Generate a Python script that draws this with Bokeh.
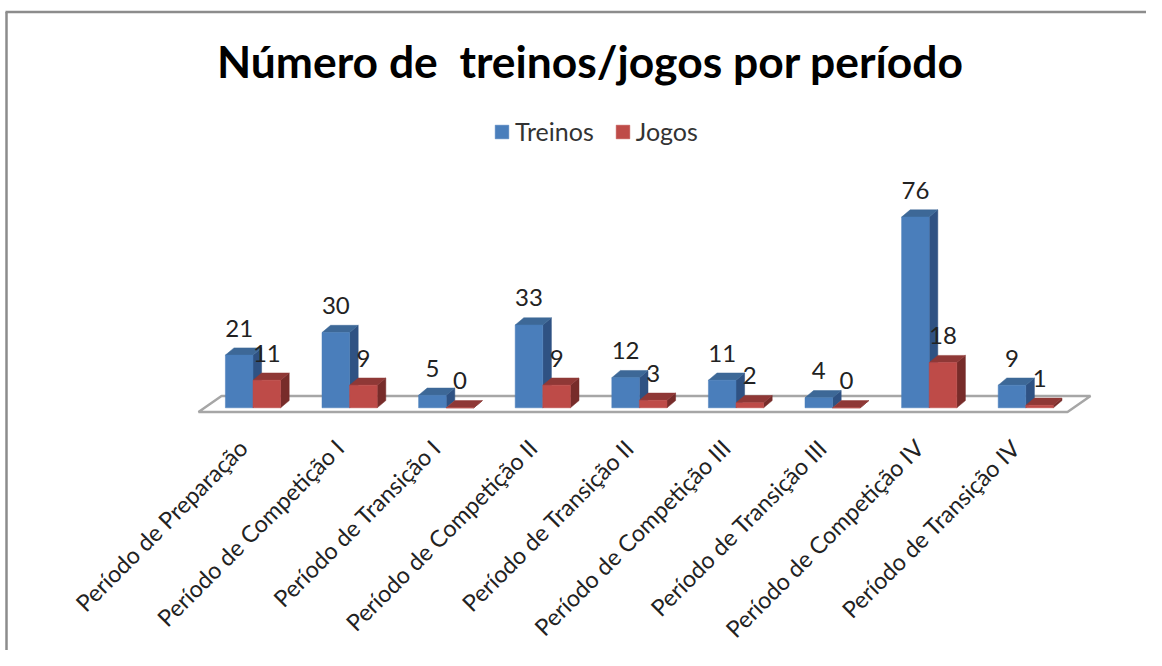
from bokeh.plotting import figure
from bokeh.models import Range1d, Legend, LegendItem
from bokeh.core.properties import value
from bokeh.embed import file_html
from bokeh.resources import INLINE

categories = ["Período de Preparação", "Período de Competição I", "Período de Transição I",
              "Período de Competição II", "Período de Transição II", "Período de Competição III",
              "Período de Transição III", "Período de Competição IV", "Período de Transição IV"]
treinos = [21, 30, 5, 33, 12, 11, 4, 76, 9]
jogos = [11, 9, 0, 9, 3, 2, 0, 18, 1]

FONT = "Lato"
W, H = 1146, 650
PX_PER_CAT = 96.6
PX_PER_UNIT = 2.51
X0 = 252.5   # figure x of first category
Y0 = 407.3   # figure y of value 0

def px(x):
    return (x - X0) / PX_PER_CAT
def py(y):
    return (Y0 - y) / PX_PER_UNIT

p = figure(width=W, height=H, output_backend="svg", toolbar_location=None,
           x_range=Range1d(px(0), px(W)), y_range=Range1d(py(H), py(0)),
           min_border=0, x_axis_location=None, y_axis_location=None, outline_line_color=None)
p.grid.visible = False

# chart frame
p.line([px(6), px(6)], [py(H), py(11.5)], line_color="#8c8c8c", line_width=2.5)
p.line([px(5), px(W)], [py(11.5), py(11.5)], line_color="#8c8c8c", line_width=2.5)

# floor
DX = 8.6 / PX_PER_CAT
DY = 7.2 / PX_PER_UNIT
BW = 27.6 / PX_PER_CAT
p.patch([px(198), px(1067), px(1090), px(221)], [py(411.5), py(411.5), py(395.5), py(395.5)],
        fill_color="white", line_color="#a6a6a6", line_width=2.5)

def bars(vals, off, front, top, side):
    xl = [i + off for i in range(len(vals))]
    xr = [x + BW for x in xl]
    p.patches([[b, b, b + DX, b + DX] for b in xr],
              [[v, 0, DY, v + DY] for v in vals],
              fill_color=side, line_color=side, line_width=0.5)
    p.patches([[a, b, b + DX, a + DX] for a, b in zip(xl, xr)],
              [[v, v, v + DY, v + DY] for v in vals],
              fill_color=top, line_color=top, line_width=0.5)
    return p.quad(left=xl, right=xr, bottom=[0] * len(vals), top=vals,
                  fill_color=front, line_color=front, line_width=0.5)

blue = bars(treinos, -BW, "#4a7ebb", "#3d6897", "#2f5283")
red = bars(jogos, 0, "#be4b48", "#8f3836", "#772c2a")

# value labels
p.text([i - BW / 2 for i in range(9)], treinos, text=[str(v) for v in treinos],
       text_font=value(FONT), text_font_size="24px", text_color="#222222",
       text_align="center", text_baseline="alphabetic", y_offset=-27)
p.text([i + BW / 2 for i in range(9)], jogos, text=[str(v) for v in jogos],
       text_font=value(FONT), text_font_size="24px", text_color="#222222",
       text_align="center", text_baseline="alphabetic", y_offset=-27)

# category labels
p.text(list(range(9)), [py(443)] * 9, text=categories, angle=45, angle_units="deg",
       text_font=value(FONT), text_font_size="23.3px", text_color="#222222",
       text_align="right", text_baseline="middle", x_offset=-10)

# title
p.text([px(590)], [py(60)], text=["Número de\u00a0 treinos/jogos por período"],
       text_font=value(FONT), text_font_size="44.4px", text_font_style="bold",
       text_color="#000000", text_align="center", text_baseline="alphabetic")

legend = Legend(items=[LegendItem(label="Treinos", renderers=[blue]),
                       LegendItem(label="Jogos", renderers=[red])],
                orientation="horizontal", location=(493, 504),
                background_fill_alpha=0, border_line_color=None,
                glyph_width=17, glyph_height=17, spacing=20, label_standoff=5,
                label_text_font=FONT, label_text_font_size="25px", label_text_color="#333333",
                margin=0, padding=0)
p.add_layout(legend, "center")

open("out.html", "w").write(file_html(p, INLINE))
